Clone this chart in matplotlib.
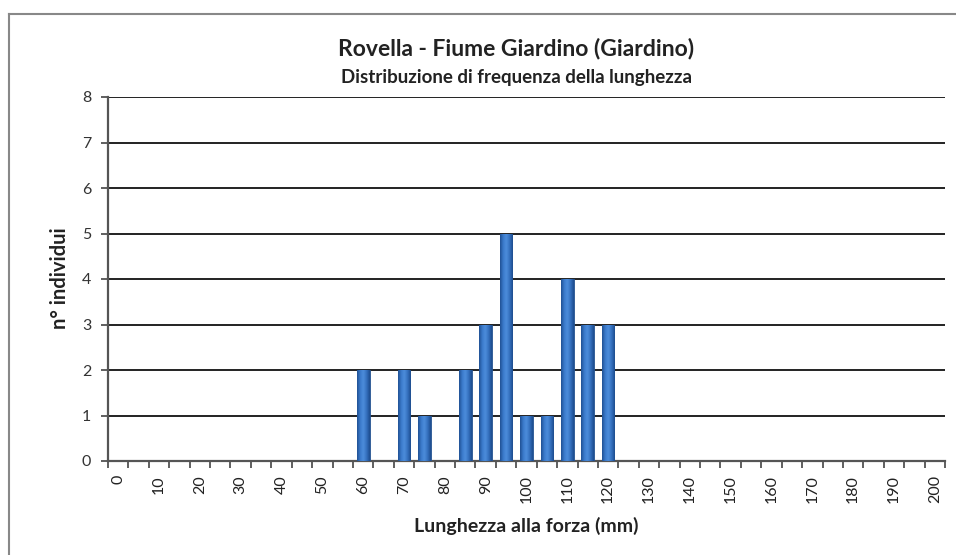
import matplotlib
matplotlib.use("Agg")
import matplotlib.pyplot as plt
from matplotlib.lines import Line2D
from matplotlib.colors import LinearSegmentedColormap
import numpy as np

plt.rcParams['font.family'] = ['Lato', 'DejaVu Sans']

categories = list(range(0, 205, 5))
counts_map = {60: 2, 70: 2, 75: 1, 85: 2, 90: 3, 95: 5, 100: 1, 105: 1, 110: 4, 115: 3, 120: 3}
values = [counts_map.get(c, 0) for c in categories]
tick_labels = [str(c) if c % 10 == 0 else "" for c in categories]

title = "Rovella - Fiume Giardino (Giardino)"
subtitle = "Distribuzione di frequenza della lunghezza"
xlabel = "Lunghezza alla forza (mm)"
ylabel = "n° individui"

W, H = 956, 555
fig = plt.figure(figsize=(W/100, H/100), dpi=100)
ax = fig.add_axes([108/W, 1 - 461/H, (945-108)/W, (461-97)/H])

x = np.arange(len(categories))
bars = ax.bar(x, values, width=0.62, color="#3570bf", edgecolor="#24528f", linewidth=0.6, zorder=3)

# horizontal gradient for a rounded, glossy look
cmap = LinearSegmentedColormap.from_list("barg", ["#1f4f92", "#3b7bcc", "#4d8ddb", "#3470be", "#1d4c8d"])
grad = np.linspace(0, 1, 64).reshape(1, -1)
for b in bars:
    h = b.get_height()
    if h <= 0:
        continue
    x0 = b.get_x()
    w = b.get_width()
    im = ax.imshow(grad, cmap=cmap, aspect='auto', extent=(x0, x0 + w, 0, h), zorder=3.5, interpolation='bicubic')
    im.set_clip_path(b)

ax.set_xlim(-0.5, len(categories) - 0.5)
ax.set_ylim(0, 8)
ax.set_yticks(range(0, 9))
ax.yaxis.grid(True, color="#111111", linewidth=1.3, zorder=1)
ax.set_axisbelow(True)

ax.set_xticks(x)
ax.set_xticklabels(tick_labels, rotation=90, fontsize=11.5, color="#222222")
ax.tick_params(axis='x', which='major', length=0, pad=10)
ax.set_xticks(np.arange(-0.5, len(categories), 1.0), minor=True)
ax.tick_params(axis='x', which='minor', length=5, width=1.2, color="#444444", direction='out')
ax.tick_params(axis='y', length=5, width=1.2, color="#444444", labelsize=11.5, labelcolor="#333333", pad=7)

for s in ['top', 'right']:
    ax.spines[s].set_visible(False)
for s in ['left', 'bottom']:
    ax.spines[s].set_color("#555555")
    ax.spines[s].set_linewidth(1.6)

cx = (335 + 698) / 2 / W
fig.text(cx, 1 - 55/H, title, ha='center', va='baseline', fontsize=16.5, fontweight='bold', color="#222222")
fig.text(cx, 1 - 83/H, subtitle, ha='center', va='baseline', fontsize=13.5, fontweight='bold', color="#222222")
fig.text((412 + 640) / 2 / W, 1 - 532/H, xlabel, ha='center', va='baseline', fontsize=14, fontweight='bold', color="#222222")
fig.text(60/W, 1 - 278/H, ylabel, ha='center', va='center', rotation=90, fontsize=14.5, fontweight='bold', color="#222222")

# outer chart border (left and top visible)
fig.add_artist(Line2D([8.5/W, 8.5/W], [0, 1 - 14/H], transform=fig.transFigure, color="#888888", linewidth=1.5))
fig.add_artist(Line2D([8.5/W, 1], [1 - 14/H, 1 - 14/H], transform=fig.transFigure, color="#888888", linewidth=1.5))

fig.savefig("out.png", dpi=100)
